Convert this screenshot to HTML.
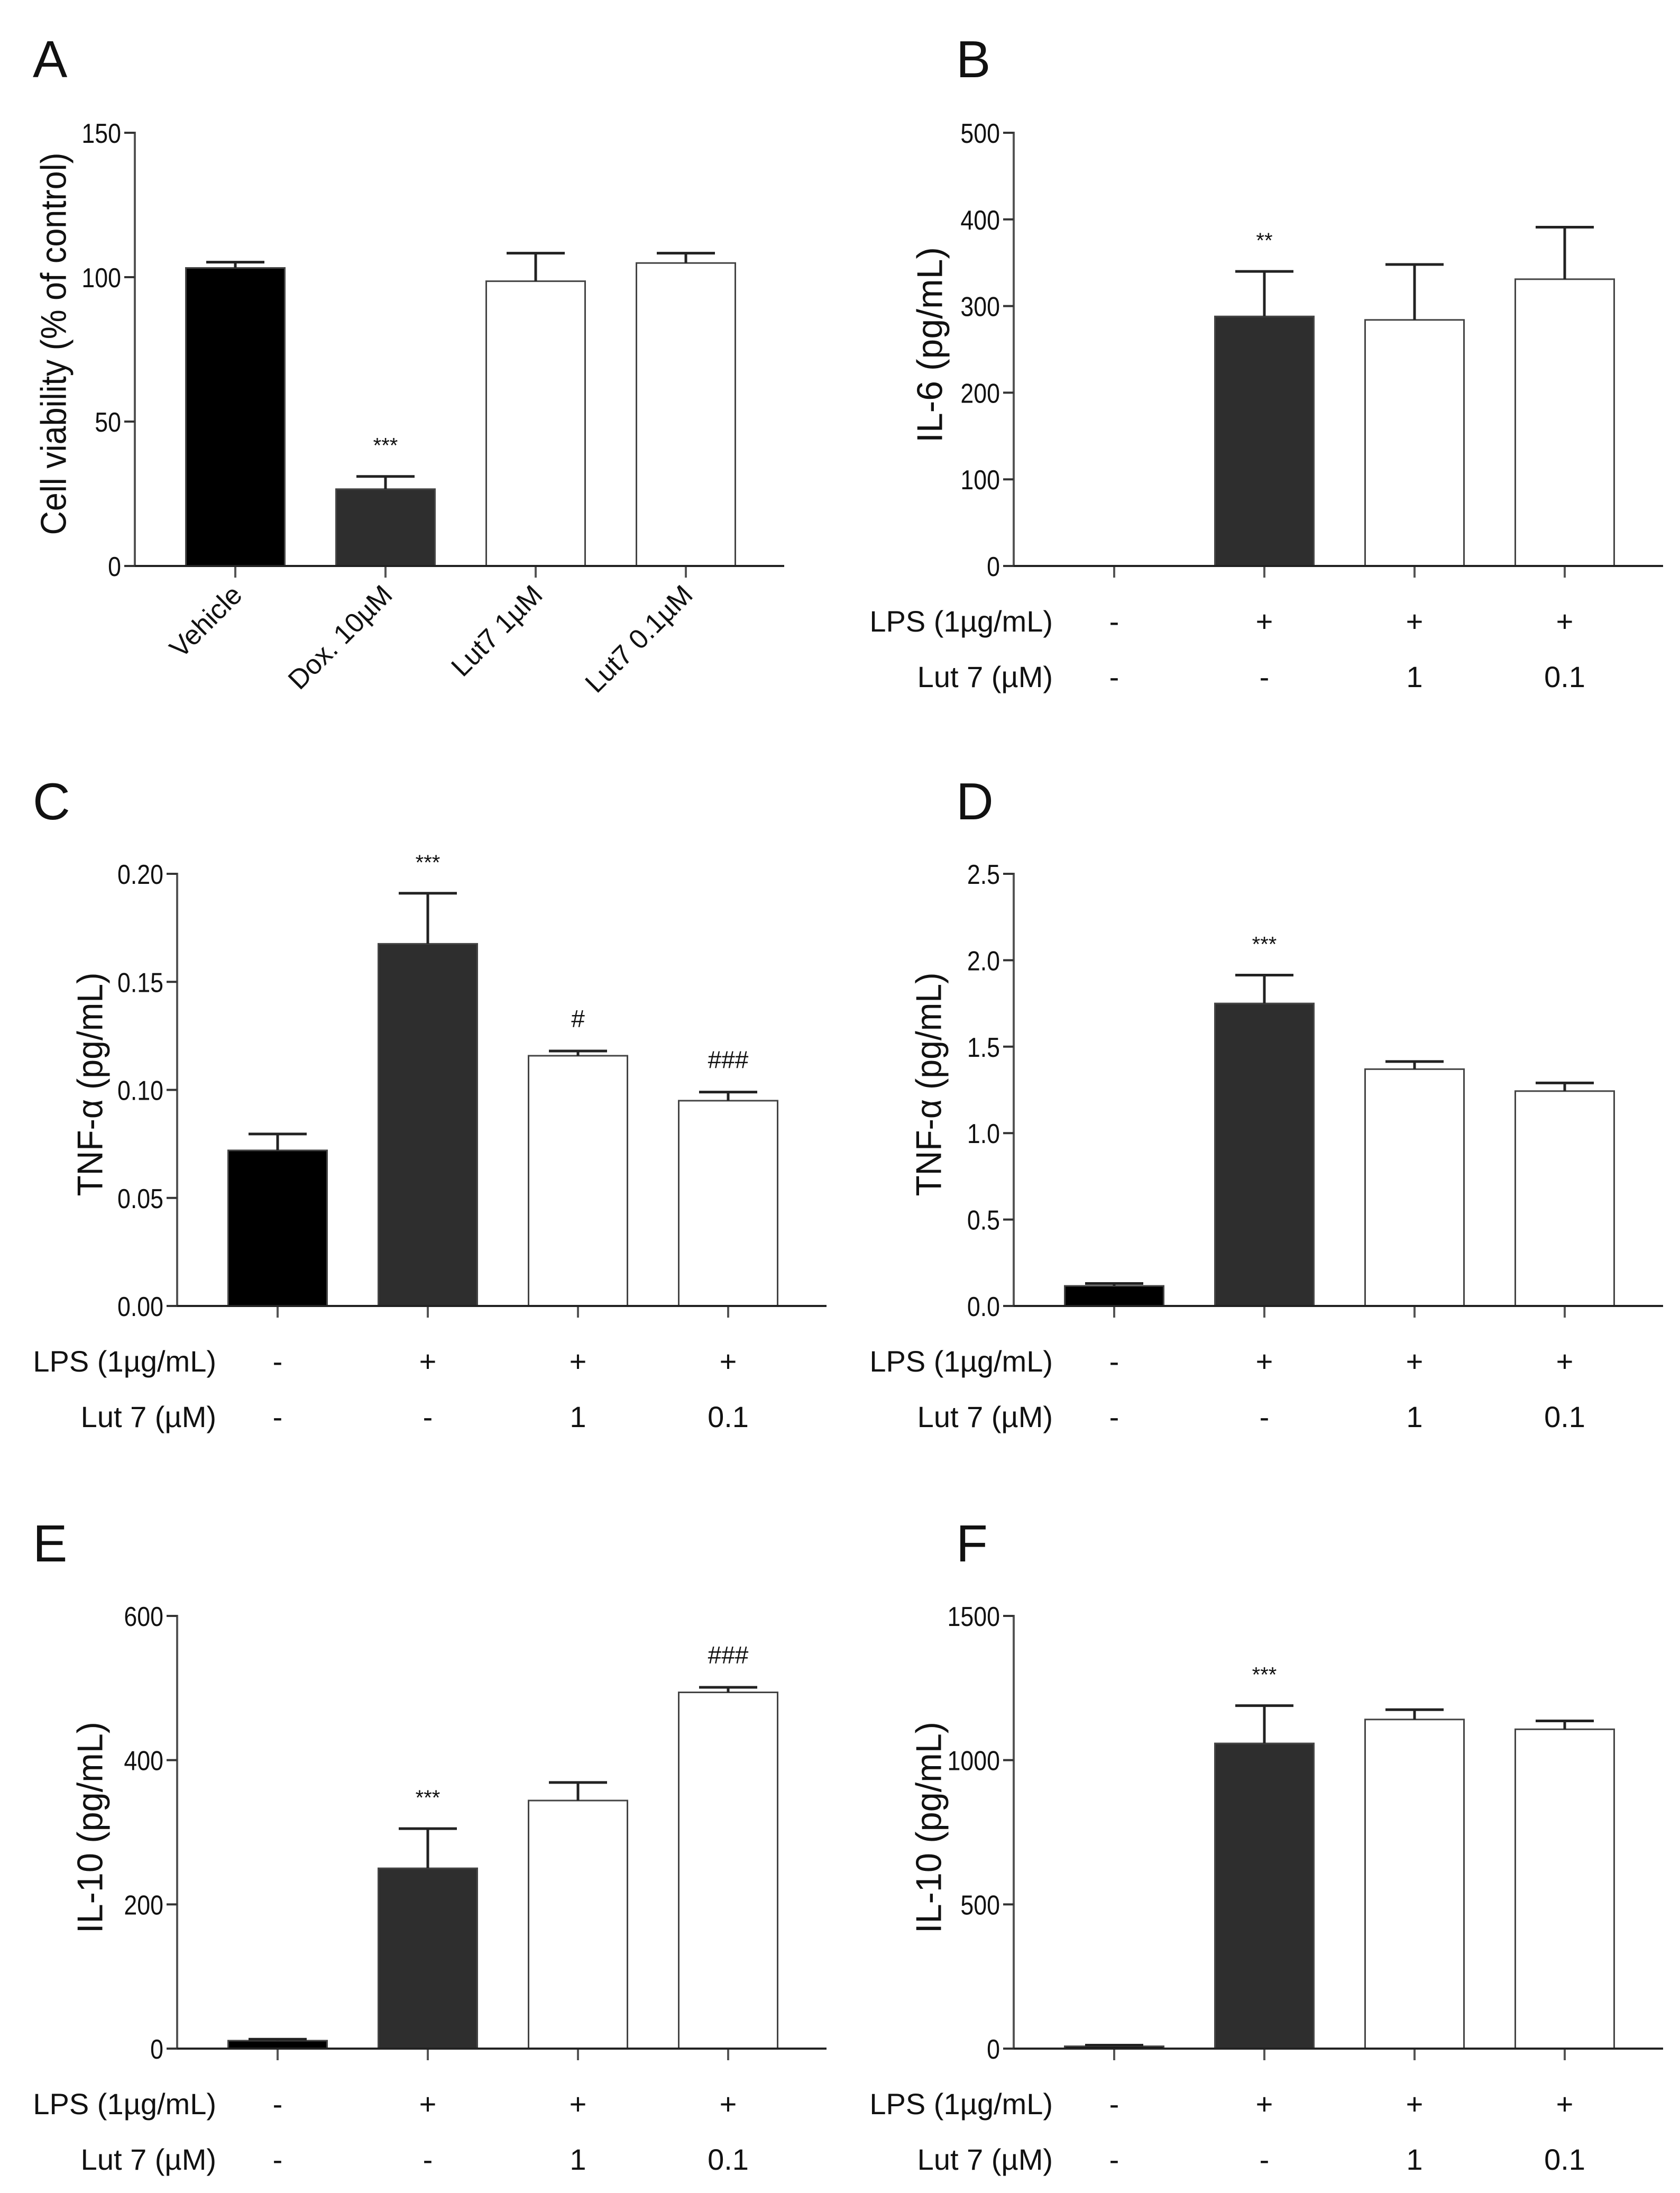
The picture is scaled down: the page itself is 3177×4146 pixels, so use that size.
<!DOCTYPE html>
<html><head><meta charset="utf-8">
<style>
html,body{margin:0;padding:0;background:#fff;}
svg{display:block;font-family:"Liberation Sans",Arial,sans-serif;}
</style></head>
<body>
<svg id="fig" width="3177" height="4146" viewBox="0 0 3177 4146" xmlns="http://www.w3.org/2000/svg">
<rect x="0" y="0" width="3177" height="4146" fill="#fff"/>
</svg>
<script>
// ---- data ----
const aCategories = ["Vehicle", "Dox. 10\u00B5M", "Lut7 1\u00B5M", "Lut7 0.1\u00B5M"];
const aValues = [103.2, 26.6, 98.6, 104.9];
const aErrTop = [105.2, 31, 108.3, 108.3];
const aTicks = [0, 50, 100, 150];
const aTickLabels = ["0", "50", "100", "150"];
const aStars = ["", "***", "", ""];

const lpsRow = ["-", "+", "+", "+"];
const lutRow = ["-", "-", "1", "0.1"];

const bValues = [0, 288, 284, 331];
const bErrTop = [0, 340, 348, 391];
const bTicks = [0, 100, 200, 300, 400, 500];
const bTickLabels = ["0", "100", "200", "300", "400", "500"];
const bStars = ["", "**", "", ""];

const cValues = [0.072, 0.1676, 0.1158, 0.095];
const cErrTop = [0.0796, 0.191, 0.118, 0.099];
const cTicks = [0, 0.05, 0.10, 0.15, 0.20];
const cTickLabels = ["0.00", "0.05", "0.10", "0.15", "0.20"];
const cStars = ["", "***", "#", "###"];

const dValues = [0.116, 1.75, 1.37, 1.243];
const dErrTop = [0.13, 1.914, 1.414, 1.29];
const dTicks = [0, 0.5, 1.0, 1.5, 2.0, 2.5];
const dTickLabels = ["0.0", "0.5", "1.0", "1.5", "2.0", "2.5"];
const dStars = ["", "***", "", ""];

const eValues = [11, 250, 344, 494];
const eErrTop = [13, 305, 369, 501];
const eTicks = [0, 200, 400, 600];
const eTickLabels = ["0", "200", "400", "600"];
const eStars = ["", "***", "", "###"];

const fValues = [8, 1058, 1141, 1107];
const fErrTop = [12, 1189, 1175, 1136];
const fTicks = [0, 500, 1000, 1500];
const fTickLabels = ["0", "500", "1000", "1500"];
const fStars = ["", "***", "", ""];

const fills = ["#000", "#2e2e2e", "#fff", "#fff"];

// ---- drawing ----
const NS = "http://www.w3.org/2000/svg";
const svg = document.getElementById("fig");
function mk(tag, attrs, parent, txt) {
  const e = document.createElementNS(NS, tag);
  for (const k in attrs) e.setAttribute(k, attrs[k]);
  if (txt !== undefined) e.textContent = txt;
  (parent || svg).appendChild(e);
  return e;
}

function panel(p) {
  const g = mk("g", {}, svg);
  
  
  const ymax = p.ticks[p.ticks.length - 1];
  const yScale = v => p.y0 - (v / ymax) * (p.y0 - p.yTop);
  const xScale = i => p.ax + 190 + i * 284;
  const barW = 187;

  const letter = mk("text", {x: p.lx, y: p.ly, "font-size": 98, fill: "#111"}, g, p.id);
  
  

  p.values.forEach((v, i) => {
    const cx = xScale(i);
    if (v > 0) {
      const r = mk("rect", {x: cx - barW / 2, y: yScale(v), width: barW, height: p.y0 - yScale(v),
        fill: fills[i], stroke: "#444", "stroke-width": 3}, g);
      
      
      const et = yScale(p.err[i]);
      const eb = mk("path", {d: `M${cx} ${yScale(v)} V${et} M${cx - 55} ${et} H${cx + 55}`,
        stroke: "#222", "stroke-width": 5, fill: "none"}, g);
      
      
      if (p.stars[i]) {
        const s = mk("text", {x: cx, y: et - 45, "font-size": p.stars[i].includes("#") ? 46 : 40,
          "text-anchor": "middle", fill: "#111"}, g, p.stars[i]);
        
        
      }
    }
    const t = mk("line", {x1: cx, y1: p.y0, x2: cx, y2: p.y0 + 22, stroke: "#555", "stroke-width": 4}, g);
    
    
  });

  const yAxis = mk("line", {x1: p.ax, y1: p.yTop - 2, x2: p.ax, y2: p.y0, stroke: "#555", "stroke-width": 4}, g);
  
  
  const xAxis = mk("line", {x1: p.ax, y1: p.y0, x2: p.ax + 1228, y2: p.y0, stroke: "#222", "stroke-width": 4}, g);
  
  

  p.ticks.forEach((tv, i) => {
    const y = yScale(tv);
    const tl = mk("line", {x1: p.ax - 20, y1: y, x2: p.ax, y2: y, stroke: "#333", "stroke-width": 4}, g);
    
    
    const lab = mk("text", {transform: `translate(${p.ax - 26},${y + 19}) scale(0.86,1)`, x: 0, y: 0,
      "font-size": 52, "text-anchor": "end", fill: "#111"}, g, p.tickLabels[i]);
    
    
  });

  const tt = mk("text", {transform: `translate(${p.tx},${p.ty}) rotate(-90)`, "font-size": 68,
    "text-anchor": "middle", dy: "0.36em", fill: "#111", textLength: p.tlen, lengthAdjust: "spacingAndGlyphs"}, g, p.title);
  
  

  if (p.rows) {
    const r1 = mk("text", {x: p.ax + 74, y: p.y0 + 124, "font-size": 56, "text-anchor": "end", fill: "#111"}, g, "LPS (1\u00B5g/mL)");
    
    
    const r2 = mk("text", {x: p.ax + 74, y: p.y0 + 229, "font-size": 56, "text-anchor": "end", fill: "#111"}, g, "Lut 7 (\u00B5M)");
    
    
    lpsRow.forEach((s, i) => {
      const t = mk("text", {x: xScale(i), y: p.y0 + 124, "font-size": 56, "text-anchor": "middle", fill: "#111"}, g, s);
      
      
    });
    lutRow.forEach((s, i) => {
      const t = mk("text", {x: xScale(i), y: p.y0 + 229, "font-size": 56, "text-anchor": "middle", fill: "#111"}, g, s);
      
      
    });
  } else {
    p.categories.forEach((c, i) => {
      const x = xScale(i) + 16, y = p.y0 + 58;
      const t = mk("text", {transform: `translate(${x},${y}) rotate(-45)`, "font-size": 52,
        "text-anchor": "end", fill: "#111"}, g, c);
      
      
    });
  }
}

panel({id: "A", ax: 255, yTop: 251, y0: 1070, lx: 62, ly: 146, values: aValues, err: aErrTop, ticks: aTicks,
  tickLabels: aTickLabels, stars: aStars, title: "Cell viability (% of control)", tx: 100, ty: 650, tlen: 723,
  categories: aCategories, rows: false});
panel({id: "B", ax: 1917, yTop: 251, y0: 1070, lx: 1808, ly: 146, values: bValues, err: bErrTop, ticks: bTicks,
  tickLabels: bTickLabels, stars: bStars, title: "IL-6 (pg/mL)", tx: 1757, ty: 652, tlen: 370, rows: true});
panel({id: "C", ax: 335, yTop: 1652, y0: 2469, lx: 62, ly: 1549, values: cValues, err: cErrTop, ticks: cTicks,
  tickLabels: cTickLabels, stars: cStars, title: "TNF-\u03B1 (pg/mL)", tx: 169, ty: 2050, tlen: 423, rows: true});
panel({id: "D", ax: 1917, yTop: 1652, y0: 2469, lx: 1808, ly: 1549, values: dValues, err: dErrTop, ticks: dTicks,
  tickLabels: dTickLabels, stars: dStars, title: "TNF-\u03B1 (pg/mL)", tx: 1755, ty: 2050, tlen: 423, rows: true});
panel({id: "E", ax: 335, yTop: 3055, y0: 3873, lx: 62, ly: 2952, values: eValues, err: eErrTop, ticks: eTicks,
  tickLabels: eTickLabels, stars: eStars, title: "IL-10 (pg/mL)", tx: 169, ty: 3455, tlen: 400, rows: true});
panel({id: "F", ax: 1917, yTop: 3055, y0: 3873, lx: 1808, ly: 2952, values: fValues, err: fErrTop, ticks: fTicks,
  tickLabels: fTickLabels, stars: fStars, title: "IL-10 (pg/mL)", tx: 1755, ty: 3455, tlen: 400, rows: true});
</script>
</body></html>
